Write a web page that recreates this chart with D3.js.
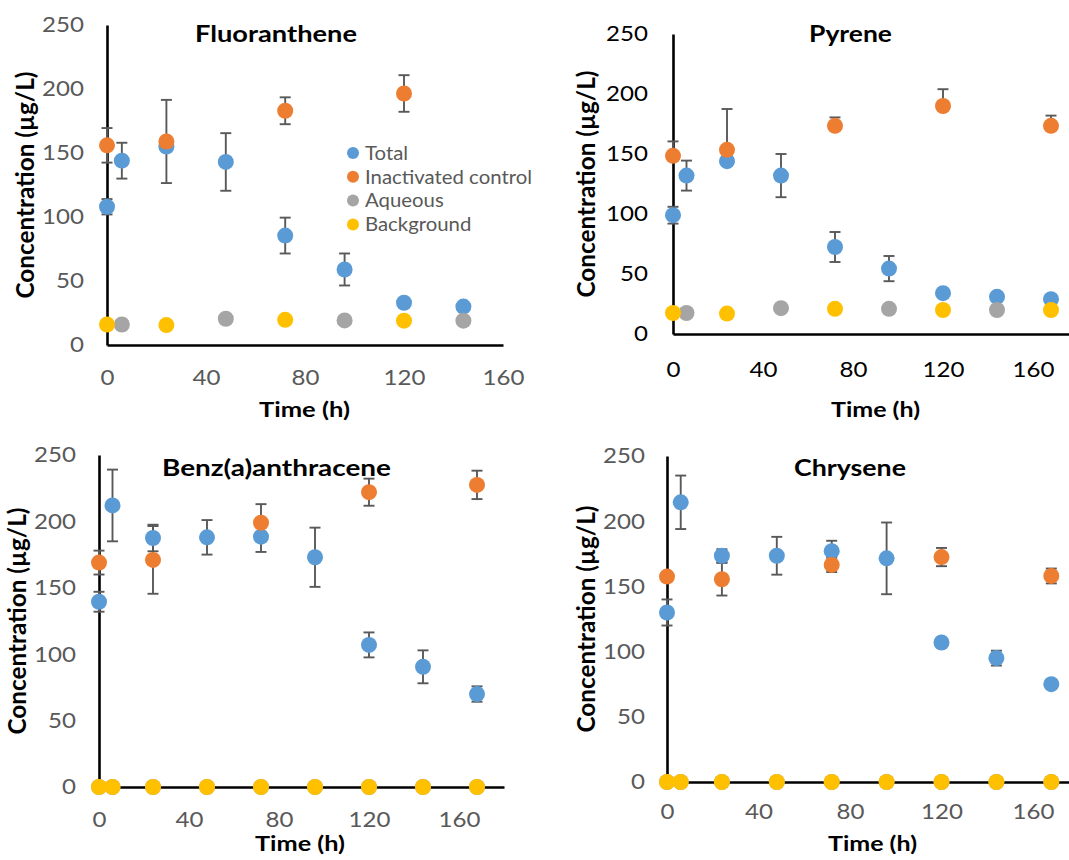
<!DOCTYPE html>
<html>
<head>
<meta charset="utf-8">
<script src="https://cdn.jsdelivr.net/npm/d3@7"></script>
<style>
  body { margin: 0; background: #fff; }
  text { font-family: Lato, "Open Sans", sans-serif; }
</style>
</head>
<body>
<div id="chart"></div>
<script>
var svgWidth = 1069;
var svgHeight = 860;

// ---- data ----
var seriesNames = ["Total", "Inactivated control", "Aqueous", "Background"];
var seriesColors = ["#5B9BD5", "#ED7D31", "#A5A5A5", "#FFC000"];
var yTicks = [0, 50, 100, 150, 200, 250];
var xTicks = [0, 40, 80, 120, 160];
var timesAll = [0, 6, 24, 48, 72, 96, 120, 144, 168];

// Fluoranthene
var fluTotalTime = [0, 6, 24, 48, 72, 96, 120, 144];
var fluTotal = [108, 144, 155, 143, 85.5, 59, 33, 30];
var fluTotalErr = [6, 14, 3, 22.5, 14, 12.5, 0, 0];
var fluCtrlTime = [0, 24, 72, 120];
var fluCtrl = [156, 159, 183, 196.5];
var fluCtrlErr = [13.5, 32.5, 10.5, 14.3];
var fluAqTime = [6, 48, 96, 144];
var fluAq = [16, 20.5, 19.2, 19];
var fluBgTime = [0, 24, 72, 120];
var fluBg = [16, 15.6, 19.7, 19];

// Pyrene
var pyrTotal = [99, 132, 144, 132, 72.5, 54.5, 34, 31, 29];
var pyrTotalErr = [7, 12.5, 0, 18, 12.5, 10.5, 0, 0, 0];
var pyrCtrlTime = [0, 24, 72, 120, 168];
var pyrCtrl = [148.5, 153.5, 173.5, 190, 173.5];
var pyrCtrlErr = [12, 34, 7, 14, 8.5];   // plus direction only
var pyrAqTime = [6, 48, 96, 144];
var pyrAq = [17.5, 21.5, 21, 20];
var pyrBgTime = [0, 24, 72, 120, 168];
var pyrBg = [17.5, 17, 21, 20, 20];

// Benz(a)anthracene
var benTotal = [139.5, 212, 187.5, 188, 188.5, 173, 107, 90.5, 70];
var benTotalErr = [7.5, 27, 10, 13, 11.5, 22.3, 9.4, 12.4, 5.8];
var benCtrlTime = [0, 24, 72, 120, 168];
var benCtrl = [169, 171, 199, 222, 227.5];
var benCtrlErr = [9, 25.5, 14, 10.2, 10.7];
var benAq = [0, 0, 0, 0, 0, 0, 0, 0, 0];
var benBg = [0, 0, 0, 0, 0, 0, 0, 0, 0];

// Chrysene
var chrTotal = [130, 214.5, 173.5, 173.5, 177, 171.5, 107, 95, 75];
var chrTotalErr = [10, 20.5, 5, 14.5, 8, 27.5, 3, 5.7, 2];
var chrCtrlTime = [0, 24, 72, 120, 168];
var chrCtrl = [157.5, 155.5, 166.5, 172.5, 158];
var chrCtrlErr = [0, 12.5, 5.5, 7, 5.7];
var chrAq = [0, 0, 0, 0, 0, 0, 0, 0, 0];
var chrBg = [0, 0, 0, 0, 0, 0, 0, 0, 0];

function makeSeries(times, values, errs, plusOnly) {
  return times.map((t, i) => ({ t: t, v: values[i], e: errs ? errs[i] : 0, plusOnly: !!plusOnly }));
}

var panels = [
  {
    title: "Fluoranthene", xMax: 160, left: 107, right: 503, top: 25, bottom: 345,
    tickColor: "#595959", yPad: 23, xPad: 24.5,
    titleX: 276, titleY: 41.7, titleW: 162,
    xTitleX: 304.5, xTitleY: 416.7, xTitleW: 91,
    yTitleX: 34, yTitleY: 185, legend: true,
    series: [
      makeSeries(fluTotalTime, fluTotal, fluTotalErr),
      makeSeries(fluCtrlTime, fluCtrl, fluCtrlErr),
      makeSeries(fluAqTime, fluAq),
      makeSeries(fluBgTime, fluBg)
    ]
  },
  {
    title: "Pyrene", xMax: 180, left: 673, right: 1078, top: 34, bottom: 334,
    tickColor: "#000000", yPad: 25, xPad: 27.8,
    titleX: 850.5, titleY: 41.7, titleW: 83,
    xTitleX: 875.5, xTitleY: 417, xTitleW: 89,
    yTitleX: 594.6, yTitleY: 184,
    series: [
      makeSeries(timesAll, pyrTotal, pyrTotalErr),
      makeSeries(pyrCtrlTime, pyrCtrl, pyrCtrlErr, true),
      makeSeries(pyrAqTime, pyrAq),
      makeSeries(pyrBgTime, pyrBg)
    ]
  },
  {
    title: "Benz(a)anthracene", xMax: 180, left: 99, right: 504, top: 455, bottom: 787,
    tickColor: "#595959", yPad: 23, xPad: 24.8,
    titleX: 276.5, titleY: 476, titleW: 229,
    xTitleX: 300, xTitleY: 850.7, xTitleW: 90,
    yTitleX: 26.3, yTitleY: 621,
    series: [
      makeSeries(timesAll, benTotal, benTotalErr),
      makeSeries(benCtrlTime, benCtrl, benCtrlErr),
      makeSeries(timesAll, benAq),
      makeSeries(timesAll, benBg)
    ]
  },
  {
    title: "Chrysene", xMax: 180, left: 667, right: 1078.75, top: 456, bottom: 782,
    tickColor: "#595959", yPad: 22, xPad: 22,
    titleX: 850, titleY: 476, titleW: 112,
    xTitleX: 872.5, xTitleY: 850.7, xTitleW: 89,
    yTitleX: 594.6, yTitleY: 619,
    series: [
      makeSeries(timesAll, chrTotal, chrTotalErr),
      makeSeries(chrCtrlTime, chrCtrl, chrCtrlErr),
      makeSeries(timesAll, chrAq),
      makeSeries(timesAll, chrBg)
    ]
  }
];

var svg = d3.select("#chart")
  .append("svg")
  .attr("width", svgWidth)
  .attr("height", svgHeight)
  .style("display", "block");

// widen text a little, the source glyphs are broader than Lato
function stretch(sel, k) {
  sel.each(function() {
    var w = this.getComputedTextLength();
    d3.select(this).attr("textLength", w * k).attr("lengthAdjust", "spacingAndGlyphs");
  });
}

function drawPanel(p) {
  var g = svg.append("g");

  var xScale = d3.scaleLinear().domain([0, p.xMax]).range([p.left, p.right]);
  var yScale = d3.scaleLinear().domain([0, 250]).range([p.bottom, p.top]);

  // axes
  var xAxis = g.append("g")
    .attr("transform", `translate(0, ${p.bottom})`)
    .call(d3.axisBottom(xScale).tickValues(xTicks).tickSize(0).tickPadding(p.xPad));
  var yAxis = g.append("g")
    .attr("transform", `translate(${p.left}, 0)`)
    .call(d3.axisLeft(yScale).tickValues(yTicks).tickSize(0).tickPadding(p.yPad));

  [xAxis, yAxis].forEach(function(a) {
    a.select(".domain").attr("stroke", "#000").attr("stroke-width", 2.6);
    a.selectAll(".tick text")
      .attr("fill", p.tickColor)
      .style("font-size", "21.5px")
      .style("font-family", "Lato");
    stretch(a.selectAll(".tick text"), 1.12);
  });

  // error bars
  var bars = g.append("g").attr("stroke", "#595959").attr("stroke-width", 1.9);
  p.series.forEach(function(s) {
    s.filter(d => d.e > 0).forEach(function(d) {
      var cx = xScale(d.t);
      var yHi = yScale(d.v + d.e);
      var yLo = d.plusOnly ? yScale(d.v) : yScale(d.v - d.e);
      bars.append("line").attr("x1", cx).attr("x2", cx).attr("y1", yHi).attr("y2", yLo);
      bars.append("line").attr("x1", cx - 5.5).attr("x2", cx + 5.5).attr("y1", yHi).attr("y2", yHi);
      if (!d.plusOnly) {
        bars.append("line").attr("x1", cx - 5.5).attr("x2", cx + 5.5).attr("y1", yLo).attr("y2", yLo);
      }
    });
  });

  // markers
  p.series.forEach(function(s, i) {
    g.append("g").selectAll("circle")
      .data(s)
      .enter()
      .append("circle")
      .attr("cx", d => xScale(d.t))
      .attr("cy", d => yScale(d.v))
      .attr("r", 8)
      .attr("fill", seriesColors[i]);
  });

  // titles
  g.append("text")
    .attr("x", p.titleX).attr("y", p.titleY)
    .attr("text-anchor", "middle")
    .style("font-size", "23px").style("font-weight", "bold")
    .attr("textLength", p.titleW).attr("lengthAdjust", "spacingAndGlyphs")
    .text(p.title);

  g.append("text")
    .attr("x", p.xTitleX).attr("y", p.xTitleY)
    .attr("text-anchor", "middle")
    .style("font-size", "21px").style("font-weight", "bold")
    .attr("textLength", p.xTitleW).attr("lengthAdjust", "spacingAndGlyphs")
    .text("Time (h)");

  g.append("text")
    .attr("transform", `translate(${p.yTitleX}, ${p.yTitleY})rotate(-90)`)
    .attr("text-anchor", "middle")
    .style("font-size", "24px").style("font-weight", "bold")
    .attr("textLength", 227).attr("lengthAdjust", "spacingAndGlyphs")
    .text("Concentration (µg/L)");

  if (p.legend) {
    var legend = g.append("g").attr("transform", "translate(353, 153)");
    var rows = legend.selectAll("g")
      .data(seriesNames)
      .enter()
      .append("g")
      .attr("transform", (d, i) => `translate(0, ${i * 23.8})`);
    rows.append("circle").attr("r", 6).attr("fill", (d, i) => seriesColors[i]);
    rows.append("text")
      .attr("x", 12).attr("y", 6.7)
      .attr("fill", "#595959")
      .style("font-size", "18.5px")
      .text(d => d);
    stretch(rows.selectAll("text"), 1.1);
  }
}

panels.forEach(drawPanel);
</script>
</body>
</html>
